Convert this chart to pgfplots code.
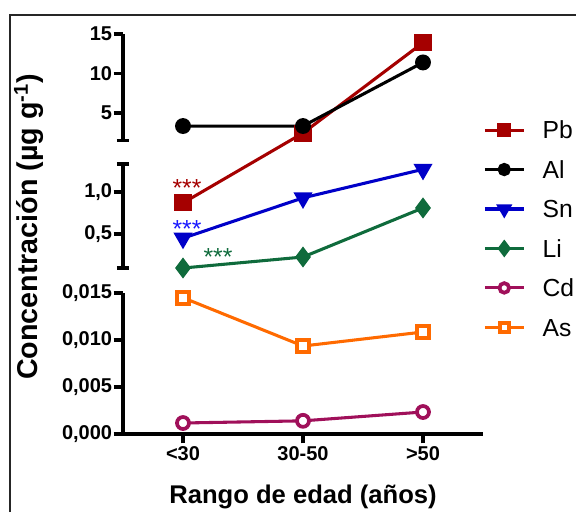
\documentclass[border=0pt]{standalone}
\usepackage{pgfplots}
\pgfplotsset{compat=1.18}
\usepackage{fontspec}
\setmainfont{Liberation Sans}
\definecolor{cPb}{HTML}{A50000}
\definecolor{cSn}{HTML}{0000C8}
\definecolor{cLi}{HTML}{0F6B3C}
\definecolor{cCd}{HTML}{A0105A}
\definecolor{cAs}{HTML}{FF6A00}
\begin{document}
\begin{tikzpicture}[x=0.75pt,y=0.75pt]
\useasboundingbox (0,0) rectangle (576,512);
\draw[line width=1.5pt, black!85] (10,0) -- (10,497) -- (576,497);
\begin{axis}[
  at={(92.25pt,58.5pt)}, anchor=south west,
  scale only axis, width=270pt, height=300pt,
  xmin=-0.5, xmax=2.5, ymin=0, ymax=15,
  y coord trafo/.code={\pgfmathparse{#1<=0.02 ? min(#1,0.02)*9400 : (#1<=1.4 ? 242+(#1-1)*84 : 321+(#1-5)*7.9)}},
  axis x line*=bottom, axis y line*=left,
  y axis line style={draw=none},
  x axis line style={line width=2.5pt, -},
  major tick style={black, line width=2.5pt},
  tick align=outside, major tick length=7pt,
  xtick={0,1,2}, xticklabels={<30,30-50,>50},
  ytick={0,0.005,0.01,0.015,0.5,1,5,10,15},
  yticklabels={{0,000},{0,005},{0,010},{0,015},{0,5},{1,0},5,10,15},
  tick label style={font=\fontsize{15}{17}\selectfont\bfseries},
  yticklabel style={inner sep=1pt},
  xticklabel style={inner sep=2pt},
  clip=false,
  legend cell align=left,
  legend style={at={(1,0.7825)}, anchor=north west, draw=none, fill=none,
    inner sep=0pt, row sep=16.4pt,
    font=\fontsize{18.5}{21}\selectfont,
    nodes={inner sep=0pt, text height=13.2pt, text depth=0pt},
    /tikz/every odd column/.append style={column sep=13pt}},
  legend image code/.code={\draw[#1, mark repeat=2, mark phase=2, every mark/.append style={scale=0.8}] plot coordinates {(0pt,0pt) (14.6pt,0pt) (29.2pt,0pt)};},
]
\addplot[cPb, line width=2.3pt, mark=square*, mark size=5.25pt, mark options={solid}]
  coordinates {(0,0.87) (1,2.46) (2,13.9)};
\addlegendentry{Pb}
\addplot[black, line width=2.3pt, mark=*, mark size=4.8pt, mark options={solid}]
  coordinates {(0,3.35) (1,3.35) (2,11.4)};
\addlegendentry{Al}
\addplot[cSn, line width=2.3pt, mark=triangle*, mark size=6pt, mark options={solid, rotate=180}]
  coordinates {(0,0.45) (1,0.93) (2,1.27)};
\addlegendentry{Sn}
\addplot[cLi, line width=2.3pt, mark=diamond*, mark size=6pt, mark options={solid}]
  coordinates {(0,0.095) (1,0.226) (2,0.81)};
\addlegendentry{Li}
\addplot[cCd, line width=2.3pt, mark=*, mark size=4.5pt, mark options={solid, fill=white, line width=2.8pt}]
  coordinates {(0,0.00117) (1,0.0014) (2,0.00234)};
\addlegendentry{Cd}
\addplot[cAs, line width=2.3pt, mark=square*, mark size=4.4pt, mark options={solid, fill=white, line width=3pt}]
  coordinates {(0,0.0145) (1,0.00936) (2,0.01085)};
\addlegendentry{As}
% broken y axis segments
\draw[line width=2.5pt] (axis cs:-0.5,1.5) -- (axis cs:-0.5,15);
\draw[line width=2.5pt] ([xshift=-4.5pt]axis cs:-0.5,1.5) -- ([xshift=4.5pt]axis cs:-0.5,1.5);
\draw[line width=2.5pt] (axis cs:-0.5,0.095) -- (axis cs:-0.5,1.333);
\draw[line width=2.5pt] ([xshift=-4.5pt]axis cs:-0.5,0.095) -- ([xshift=4.5pt]axis cs:-0.5,0.095);
\draw[line width=2.5pt] ([xshift=-4.5pt]axis cs:-0.5,1.333) -- ([xshift=4.5pt]axis cs:-0.5,1.333);
\draw[line width=2.5pt] (axis cs:-0.5,0) -- (axis cs:-0.5,0.015);
\end{axis}
\node[font=\fontsize{18.5}{20}\selectfont, text=cPb, inner sep=0pt, anchor=north] at (187,333) {***};
\node[font=\fontsize{18.5}{20}\selectfont, text=blue!90!white, inner sep=0pt, anchor=north] at (187,292) {***};
\node[font=\fontsize{18.5}{20}\selectfont, text=cLi, inner sep=0pt, anchor=north] at (218,264) {***};
\node[rotate=90, font=\fontsize{21.5}{25}\selectfont\bfseries] at (29,285) {Concentración (µg g\textsuperscript{-1})};
\node[font=\fontsize{19.2}{22}\selectfont\bfseries] at (303,15) {Rango de edad (años)};
\end{tikzpicture}
\end{document}
